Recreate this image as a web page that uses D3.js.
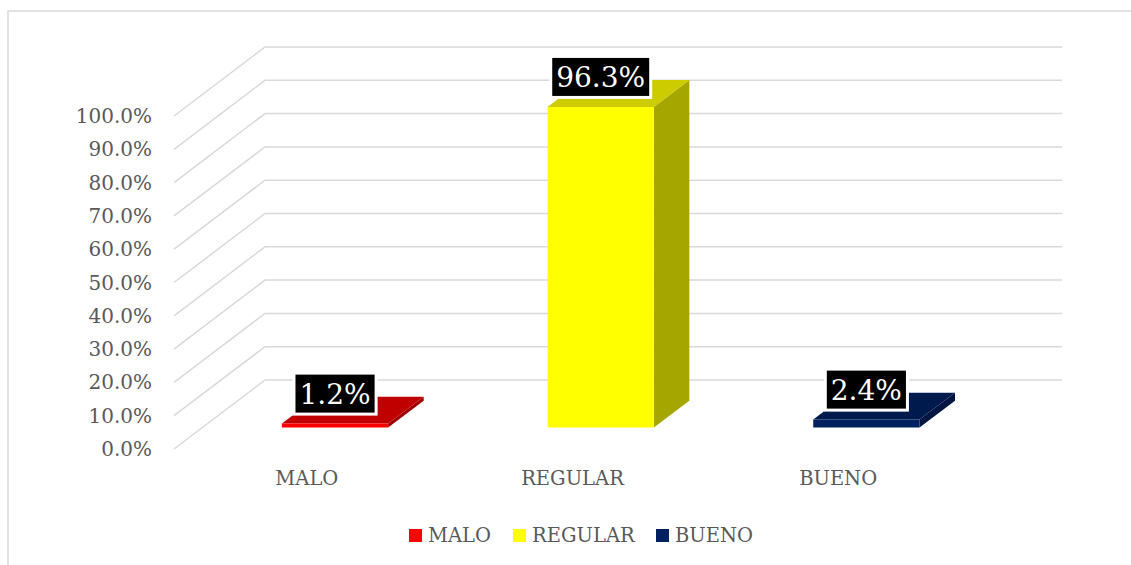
<!DOCTYPE html>
<html><head><meta charset="utf-8">
<script src="https://cdn.jsdelivr.net/npm/d3@7"></script>
<style>html,body{margin:0;padding:0;background:#fff;overflow:hidden}</style>
</head><body><svg id="c" width="1131" height="565"></svg>
<script>
const categories = ["MALO", "REGULAR", "BUENO"];
const values = [0.012, 0.963, 0.024];
const labels = ["1.2%", "96.3%", "2.4%"];
const tickValues = [0,0.1,0.2,0.3,0.4,0.5,0.6,0.7,0.8,0.9,1.0];
const frontColors = ["#FF0000", "#FFFF00", "#002060"];
const topColors = ["#C00000", "#CCCC00", "#001A4D"];
const sideColors = ["#A00000", "#A6A600", "#00153F"];

const svg = d3.select("#c");
const FONT = "DejaVu Serif";
const TXT = "#595959";
// 3D projection parameters
const DX = 91, DY = -69; // full depth offset
const y = d3.scaleLinear().domain([0, 1]).range([449, 116]);
const x = d3.scaleBand().domain(categories).range([174, 971]).paddingInner(0.6).paddingOuter(0.3);
const f0 = 0.31, f1 = 0.70; // bar depth fractions
const P = (xf, v, f) => [xf + f * DX, y(v) + f * DY];

// outer border
svg.append("rect").attr("x", 8).attr("y", 11).attr("width", 1140).attr("height", 600)
  .attr("fill", "none").attr("stroke", "#D9D9D9").attr("stroke-width", 1.5);

// gridlines
const g = svg.append("g");
tickValues.forEach(t => {
  const a = P(174, t, 0), b = P(174, t, 1), c = [971 + DX, b[1]];
  g.append("polyline").attr("points", [a, b, c].map(p => p.join(",")).join(" "))
    .attr("fill", "none").attr("stroke", "#D9D9D9").attr("stroke-width", 1.5);
});

// y tick labels
svg.append("g").selectAll("text").data(tickValues).join("text")
  .attr("x", 152).attr("y", d => y(d)).attr("dy", "0.35em")
  .attr("text-anchor", "end").attr("font-family", FONT).attr("font-size", 20)
  .attr("fill", TXT).text(d => d3.format(".1%")(d));

// bars
const bars = svg.append("g");
categories.forEach((c, i) => {
  const x0 = x(c), x1 = x(c) + x.bandwidth(), v = values[i];
  const poly = (pts, fill) => bars.append("polygon")
    .attr("points", pts.map(p => p.join(",")).join(" ")).attr("fill", fill);
  // side
  poly([P(x1, 0, f0), P(x1, 0, f1), P(x1, v, f1), P(x1, v, f0)], sideColors[i]);
  // top
  poly([P(x0, v, f0), P(x1, v, f0), P(x1, v, f1), P(x0, v, f1)], topColors[i]);
  // front
  poly([P(x0, 0, f0), P(x1, 0, f0), P(x1, v, f0), P(x0, v, f0)], frontColors[i]);
});

// data labels
const lab = svg.append("g");
categories.forEach((c, i) => {
  const cx = x(c) + x.bandwidth() / 2 + f0 * DX;
  const topY = y(values[i]) + f0 * DY;
  const cy = topY - 30;
  const gg = lab.append("g");
  const rect = gg.append("rect");
  const t = gg.append("text").attr("x", cx).attr("y", cy).attr("dy", "0.36em")
    .attr("text-anchor", "middle").attr("font-family", FONT).attr("font-size", 28)
    .attr("fill", "#fff").text(labels[i]);
  const bb = t.node().getBBox();
  rect.attr("x", bb.x - 5.5).attr("y", cy - 20.5).attr("width", bb.width + 11).attr("height", 41)
    .attr("fill", "#000").attr("stroke", "#fff").attr("stroke-width", 3);
});

// category labels
svg.append("g").selectAll("text").data(categories).join("text")
  .attr("x", d => x(d) + x.bandwidth() / 2).attr("y", 478).attr("dy", "0.35em")
  .attr("text-anchor", "middle").attr("font-family", FONT).attr("font-size", 19.5)
  .attr("fill", TXT).text(d => d);

// legend
const legX = [409, 513, 656];
const leg = svg.append("g");
categories.forEach((c, i) => {
  leg.append("rect").attr("x", legX[i]).attr("y", 529).attr("width", 13).attr("height", 13)
    .attr("fill", frontColors[i]);
  leg.append("text").attr("x", legX[i] + 19).attr("y", 535.5).attr("dy", "0.35em")
    .attr("font-family", FONT).attr("font-size", 19.5).attr("fill", TXT).text(c);
});
</script></body></html>
